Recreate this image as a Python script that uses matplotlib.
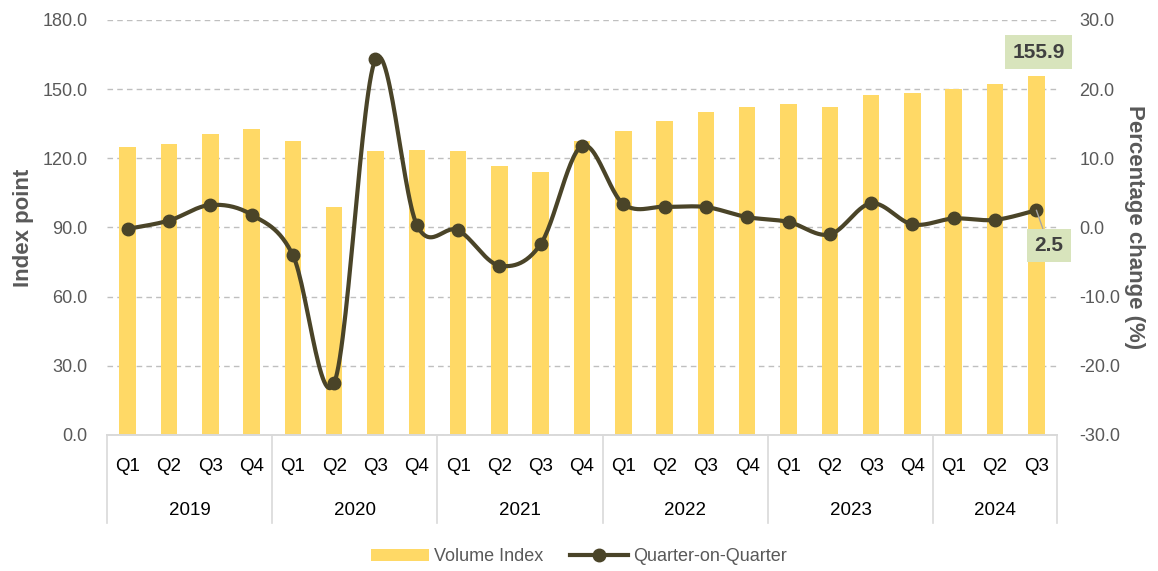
import numpy as np
import matplotlib.pyplot as plt
from matplotlib.patches import Patch
from matplotlib.lines import Line2D
import matplotlib.transforms as mtransforms

plt.rcParams['font.family'] = ['Liberation Sans', 'DejaVu Sans']

# 数据
years = ['2019', '2020', '2021', '2022', '2023', '2024']
quarters = ['Q1', 'Q2', 'Q3', 'Q4'] * 5 + ['Q1', 'Q2', 'Q3']
volume_index = [124.9, 126.2, 130.4, 132.8,
                127.6, 98.9, 123.2, 123.6,
                123.2, 116.7, 113.9, 127.3,
                132.0, 136.0, 140.2, 142.4,
                143.5, 142.2, 147.4, 148.2,
                150.2, 152.2, 155.9]
qoq = [-0.2, 1.0, 3.25, 1.85,
       -4.0, -22.5, 24.3, 0.4,
       -0.4, -5.5, -2.4, 11.8,
       3.4, 3.0, 2.95, 1.5,
       0.8, -1.0, 3.5, 0.45,
       1.3, 1.1, 2.5]

bar_color = '#FFD966'
line_color = '#4A4428'
text_color = '#595959'

'''
平滑曲线 (类似 Excel 的平滑线)
'''
def smooth(x, y, n=30):
    x = np.asarray(x, dtype=float)
    y = np.asarray(y, dtype=float)
    px = np.concatenate([[x[0]], x, [x[-1]]])
    py = np.concatenate([[y[0]], y, [y[-1]]])
    xs, ys = [], []
    t = np.linspace(0, 1, n)
    for i in range(1, len(px) - 2):
        p0 = np.array([px[i], py[i]])
        p3 = np.array([px[i + 1], py[i + 1]])
        c1 = p0 + (np.array([px[i + 1], py[i + 1]]) - np.array([px[i - 1], py[i - 1]])) / 6
        c2 = p3 - (np.array([px[i + 2], py[i + 2]]) - np.array([px[i], py[i]])) / 6
        b = (np.outer((1 - t) ** 3, p0) + np.outer(3 * (1 - t) ** 2 * t, c1)
             + np.outer(3 * (1 - t) * t ** 2, c2) + np.outer(t ** 3, p3))
        xs.extend(b[:, 0])
        ys.extend(b[:, 1])
    return np.array(xs), np.array(ys)


fig = plt.figure(figsize=(11.58, 5.71), dpi=100)
ax = fig.add_axes([0.0924, 0.2382, 0.8204, 0.7268])
ax2 = ax.twinx()

x = np.arange(len(volume_index))
ax.bar(x, volume_index, width=0.4, color=bar_color, zorder=2)
ax.set_xlim(-0.5, len(x) - 0.5)
ax.set_ylim(0, 180)
ax.set_yticks(np.arange(0, 181, 30))
ax.set_yticklabels([f'{v:.1f}' for v in np.arange(0, 181, 30)])
ax.grid(axis='y', color='#BFBFBF', linestyle=(0, (4, 3)), linewidth=1, zorder=0)
ax.set_axisbelow(True)

sx, sy = smooth(x, qoq)
ax2.plot(sx, sy, color=line_color, linewidth=3, zorder=3, solid_capstyle='round')
ax2.plot(x, qoq, 'o', color=line_color, markersize=9, zorder=4)
ax2.set_ylim(-30, 30)
ax2.set_yticks(np.arange(-30, 31, 10))
ax2.set_yticklabels([f'{v:.1f}' for v in np.arange(-30, 31, 10)])

for a in (ax, ax2):
    for s in ('top', 'left', 'right'):
        a.spines[s].set_visible(False)
    a.spines['bottom'].set_color('#D9D9D9')
    a.spines['bottom'].set_linewidth(1.2)
    a.tick_params(axis='y', length=0, labelsize=13, labelcolor=text_color)
    a.tick_params(axis='x', length=0, labelbottom=False)
ax.tick_params(axis='y', pad=14)
ax2.tick_params(axis='y', pad=16)

ax.set_ylabel('Index point', fontsize=16, fontweight='bold', color=text_color, labelpad=6)
ax2.set_ylabel('Percentage change (%)', fontsize=16, fontweight='bold', color=text_color,
               rotation=270, labelpad=18)

# 分类轴: 季度 + 年份
trans = mtransforms.blended_transform_factory(ax.transData, ax.transAxes)
for i, q in enumerate(quarters):
    ax.text(i, -0.075, q, transform=trans, ha='center', va='center', fontsize=13.5, color='black')
starts = [0, 4, 8, 12, 16, 20]
ends = [4, 8, 12, 16, 20, 23]
for yr, s0, e0 in zip(years, starts, ends):
    ax.text((s0 + e0 - 1) / 2, -0.183, yr, transform=trans, ha='center', va='center',
            fontsize=13.5, color='black')
for b in starts + [23]:
    ax.add_line(Line2D([b - 0.5, b - 0.5], [0, -0.212], transform=trans, color='#D9D9D9',
                       linewidth=1.2, clip_on=False))

# 数据标签
box = dict(boxstyle='square,pad=0.35', facecolor='#D8E4BC', edgecolor='none')
ax.annotate(f'{volume_index[-1]:.1f}', xy=(x[-1], volume_index[-1]), xytext=(x[-1] + 0.05, 166),
            ha='center', va='center', fontsize=15, fontweight='bold', color='#404040', bbox=box,
            zorder=6)
ax2.annotate(f'{qoq[-1]:.1f}', xy=(x[-1], qoq[-1]), xytext=(x[-1] + 0.3, -2.6),
             ha='center', va='center', fontsize=15, fontweight='bold', color='#404040', bbox=box,
             arrowprops=dict(arrowstyle='-', color='#A6A6A6', linewidth=1, shrinkA=0, shrinkB=0),
             zorder=6)

handles = [Patch(facecolor=bar_color, edgecolor='none'),
           Line2D([0], [0], color=line_color, linewidth=3, marker='o', markersize=9)]
fig.legend(handles, ['Volume Index', 'Quarter-on-Quarter'], loc='center',
           bbox_to_anchor=(0.5, 0.025), ncol=2, frameon=False, fontsize=13,
           labelcolor=text_color, handlelength=3.2, columnspacing=1.5, handletextpad=0.3)

plt.savefig('out.png', dpi=100)
